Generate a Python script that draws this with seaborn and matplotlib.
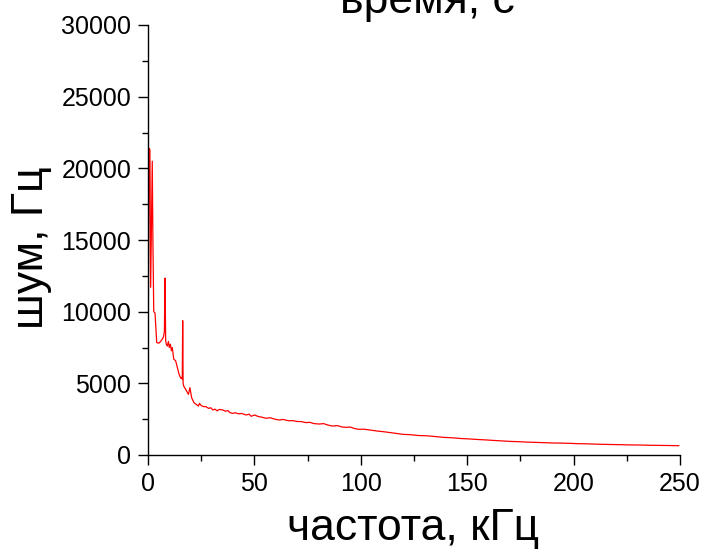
import matplotlib
matplotlib.use("Agg")
import matplotlib.pyplot as plt
from matplotlib.ticker import MultipleLocator
import seaborn as sns
import numpy as np

freq = [0.0, 0.5, 0.9, 1.25, 2.0, 2.3, 2.7, 3.3, 4.1, 5.0, 5.5, 6.3, 7.2, 7.7, 8.0, 8.3,
        8.6, 9.1, 9.6, 10.0, 10.5, 11.0, 11.4, 12.1, 13.0, 13.8, 14.6, 15.4, 15.8, 16.1,
        16.3, 16.5, 16.8, 17.7, 19.0, 19.7, 20.5, 21.6, 22.7, 23.7, 24.2, 25.0, 26.0, 27.3,
        28.5, 29.5, 30.5, 31.5, 32.5, 33.5, 35.2, 36.5, 37.5, 38.5, 39.8, 41.0, 42.5, 44.0,
        46.1, 47.5, 48.5, 50.0, 52.0, 53.5, 55.5, 57.5, 59.5, 61.7, 63.5, 66.0, 68.0, 70.0,
        72.0, 74.2, 76.0, 78.0, 80.5, 82.5, 84.5, 86.7, 89.0, 91.0, 93.0, 95.0, 97.0, 99.2,
        101.5, 104.2, 107.8, 111.0, 114.0, 117.0, 119.8, 123.0, 127.0, 131.0, 135.5, 139.0,
        143.0, 147.0, 151.0, 155.0, 159.0, 163.0, 166.7, 170.0, 174.0, 178.0, 182.3, 186.0,
        190.0, 194.0, 198.0, 202.0, 206.0, 210.0, 213.6, 218.0, 222.0, 226.0, 229.2, 233.0,
        237.0, 241.0, 245.0, 249.5]
noise = [4000, 21400, 21300, 11700, 20500, 15000, 10000, 9900, 7850, 7800, 7850, 8000, 8200, 8600, 12340, 8000,
         7730, 7600, 7920, 7500, 7730, 7270, 7500, 6690, 6570, 6100, 5630, 5350, 5400, 5300,
         9370, 5000, 4800, 4580, 4230, 4700, 4000, 3650, 3530, 3415, 3600, 3450, 3380, 3370,
         3250, 3300, 3140, 3200, 3080, 3180, 3140, 3050, 3100, 2960, 2900, 2950, 2870, 2900,
         2790, 2850, 2700, 2790, 2680, 2640, 2560, 2600, 2500, 2440, 2480, 2390, 2400, 2340,
         2330, 2260, 2280, 2190, 2160, 2190, 2090, 2020, 2050, 1960, 1930, 1950, 1850, 1790,
         1800, 1745, 1670, 1620, 1560, 1500, 1440, 1420, 1360, 1340, 1280, 1230,
         1200, 1150, 1120, 1080, 1050, 1010, 980, 950, 930, 900, 880, 860,
         840, 830, 815, 790, 780, 760, 745, 730, 720, 705, 700, 690,
         675, 670, 660, 650]

x_ticks = [0, 50, 100, 150, 200, 250]
y_ticks = [0, 5000, 10000, 15000, 20000, 25000, 30000]

sns.set_style("ticks")
plt.rcParams['font.family'] = ['Liberation Sans', 'DejaVu Sans']
plt.rcParams['text.color'] = 'black'

fig = plt.figure(figsize=(7.05, 5.56), dpi=100)
ax = fig.add_axes([148/705, 1-455/556, (680-148)/705, (455-25)/556])

sns.lineplot(x=freq, y=noise, ax=ax, color='#FF0000', linewidth=0.9, estimator=None, sort=False)

ax.set_xlim(0, 250)
ax.set_ylim(0, 30000)
ax.set_xticks(x_ticks)
ax.set_yticks(y_ticks)
ax.set_xticklabels([str(t) for t in x_ticks])
ax.set_yticklabels([str(t) for t in y_ticks])
ax.xaxis.set_minor_locator(MultipleLocator(25))
ax.yaxis.set_minor_locator(MultipleLocator(2500))
ax.tick_params(which='major', direction='out', length=7, width=1.0, labelsize=18, pad=5,
               color='black', labelcolor='black')
ax.tick_params(which='minor', direction='out', length=4, width=1.0, color='black')
sns.despine(ax=ax)
for s in ['left', 'bottom']:
    ax.spines[s].set_linewidth(1.0)
    ax.spines[s].set_color('black')
    ax.spines[s].set_clip_on(False)

fig.text(427/705, 1-13/556, 'время, с', ha='center', va='baseline', fontsize=32, color='black')
fig.text(413/705, 1-540/556, 'частота, кГц', ha='center', va='baseline', fontsize=32, color='black')
fig.text(43/705, 1-248/556, 'шум, Гц', ha='center', va='baseline', rotation=90,
         rotation_mode='anchor', fontsize=32, color='black')

fig.savefig('out.png', dpi=100)
